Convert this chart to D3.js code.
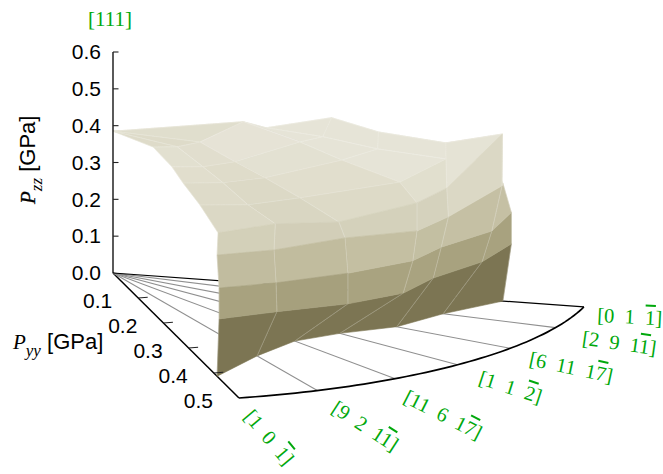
<!DOCTYPE html>
<html><head><meta charset="utf-8">
<script src="https://cdn.jsdelivr.net/npm/d3@7/dist/d3.min.js"></script>
<style>html,body{margin:0;padding:0;background:#fff}svg{display:block}text{white-space:pre}</style>
</head><body><svg id="c" width="663" height="474"></svg>
<script>
// ---- data -----
const directionLabels = ["[1  0  1\u0305]","[9  2  11\u0305]","[11  6  17\u0305]","[1  1  2\u0305]","[6  11  17\u0305]","[2  9  11\u0305]","[0  1  1\u0305]"];
const directionAngles = [0, 9.8, 20.4, 30, 39.6, 50.2, 60];
const pzzTicks = [0, 0.1, 0.2, 0.3, 0.4, 0.5, 0.6];
const pyyTicks = [0.1, 0.2, 0.3, 0.4, 0.5];
// one row per contour of the surface, one column per direction
const pyyRows = [
 [.413,.3525,.322,.329,.357,.373,.414],
 [.421,.401,.416,.421,.403,.417,.423],
 [.421,.399,.416,.435,.413,.428,.423],
 [.413,.394,.411,.441,.422,.4395,.414],
 [.417,.397,.400,.441,.420,.440,.406],
 [.345,.330,.331,.416,.419,.376,.350],
 [.278,.269,.269,.332,.333,.300,.280],
 [.234,.220,.216,.271,.264,.247,.230],
 [.159,.157,.154,.189,.193,.172,.160],
 [0,0,0,0,0,0,0]
];
const pzzRows = [
 [0,0,0,0,0,0,0],
 [.161,.151,.155,.155,.151,.154,.157],
 [.245,.228,.238,.250,.239,.241,.242],
 [.329,.314,.331,.334,.325,.367,.320],
 [.392,.387,.368,.410,.402,.508,.368],
 [.419,.396,.394,.454,.481,.465,.400],
 [.433,.417,.413,.472,.473,.472,.410],
 [.447,.429,.426,.491,.478,.495,.420],
 [.450,.443,.444,.505,.473,.445,.420],
 [.385,.385,.385,.385,.385,.385,.385]
];
const colorStops = [0.08,0.20,0.285,0.36,0.42,0.47];
const colorValues = ["#7c7553","#a9a380","#c3bea1","#d4d1bb","#dfdcca","#e6e4d7"];

// ---- projection -----
const svg = d3.select("#c");
const zY = d3.scaleLinear().domain([0,0.6]).range([273,52]);
const u = [252,250], v = [942,-66];           // screen px per GPa along the floor's two axes
const ox = 113;
const rad = d3.scaleLinear().domain([0,360]).range([0,2*Math.PI]);
function floor(phi,r){const c=Math.cos(rad(phi)),s=Math.sin(rad(phi));
  return [ox+r*(c*u[0]+s*v[0]), zY(0)+r*(c*u[1]+s*v[1])];}
function proj(phi,r,z){const p=floor(phi,r);return [p[0], p[1]+zY(z)-zY(0)];}
const color = d3.scaleLinear().domain(colorStops).range(colorValues).clamp(true);
const line = d3.line();

// ---- floor -----
const g = svg.append("g");
const rMax = 0.5;
directionAngles.forEach((a,i)=>{
  const edge = i===0||i===directionAngles.length-1;
  g.append("path").attr("d",line([floor(a,0),floor(a,rMax)])).attr("fill","none")
   .attr("stroke",edge?"#000":"#8f8f8f").attr("stroke-width",edge?(i===0?1.5:1.2):1.1);
});
g.append("path").attr("d",line(d3.range(0,60.5,1).map(a=>floor(a,rMax)))).attr("fill","none")
 .attr("stroke","#000").attr("stroke-width",1.7);

// ---- surface, painted back to front -----
const quads=[];
for(let j=0;j<pyyRows.length-1;j++)for(let i=0;i<directionAngles.length-1;i++){
  const c=[[j,i],[j,i+1],[j+1,i+1],[j+1,i]];
  const depth=d3.mean(c,([b,a])=>floor(directionAngles[a],pyyRows[b][a])[1]);
  quads.push({j,i,c,depth,
    z:d3.mean(c,([b,a])=>pzzRows[b][a]),
    pts:c.map(([b,a])=>proj(directionAngles[a],pyyRows[b][a],pzzRows[b][a]))});
}
quads.sort((a,b)=>a.depth-b.depth);
const sg=svg.append("g");
const seam=(a,b,o)=>sg.append("path").attr("d",line([a,b])).attr("stroke","#fff").attr("stroke-opacity",o).attr("stroke-width",0.6).attr("fill","none");
quads.forEach(q=>{
  const col=color(q.z);
  sg.append("path").attr("d",line(q.pts)+"Z").attr("fill",col).attr("stroke",col).attr("stroke-width",0.6).attr("stroke-linejoin","round");
  seam(q.pts[0],q.pts[3],0.3);
  seam(q.pts[1],q.pts[2],0.3);
  if(q.j>=4) seam(q.pts[2],q.pts[3],0.3);
});

// ---- axes -----
const ax=svg.append("g");
ax.append("path").attr("d",line([[ox,zY(0)],[ox,zY(0.6)]])).attr("stroke","#000").attr("stroke-width",1.3).attr("fill","none");
const sans="'Liberation Sans',Arial,sans-serif", serif="'Liberation Serif','Times New Roman',serif";
pzzTicks.forEach(t=>{
  if(t>0) ax.append("path").attr("d",line([[ox,zY(t)],[ox+5.5,zY(t)]])).attr("stroke","#222").attr("stroke-width",1.1);
  ax.append("text").attr("x",101).attr("y",zY(t)+7.2).attr("text-anchor","end").attr("font-family",sans).attr("font-size",21).attr("fill","#000").text(t.toFixed(1));
});
pyyTicks.forEach(t=>{
  const p=floor(0,t);
  if(t<0.5) ax.append("path").attr("d",line([p,[p[0]+9.5,p[1]-0.7]])).attr("stroke","#222").attr("stroke-width",1.1);
  ax.append("text").attr("x",p[0]-26).attr("y",p[1]+9.5).attr("text-anchor","end").attr("font-family",sans).attr("font-size",21).attr("fill","#000").text(t.toFixed(1));
});
// axis titles
const t1=ax.append("text").attr("transform","translate(35,204) rotate(-90)").attr("font-family",sans).attr("font-size",22);
t1.append("tspan").attr("font-family",serif).attr("font-style","italic").attr("font-size",21).attr("stroke","#000").attr("stroke-width",0.3).text("P");
t1.append("tspan").attr("font-family",serif).attr("font-style","italic").attr("font-size",17).attr("dy",7).text("zz");
t1.append("tspan").attr("dy",-7).text(" [GPa]");
const t2=ax.append("text").attr("x",13).attr("y",349).attr("font-family",sans).attr("font-size",22);
t2.append("tspan").attr("font-family",serif).attr("font-style","italic").attr("font-size",21).text("P");
t2.append("tspan").attr("font-family",serif).attr("font-style","italic").attr("font-size",17).attr("dy",7).text("yy");
t2.append("tspan").attr("dy",-7).text(" [GPa]");

// ---- direction labels -----
const green="#00a80c";
ax.append("text").attr("x",110).attr("y",26).attr("text-anchor","middle").attr("font-family",serif).attr("font-size",21).attr("fill",green).text("[111]");
const labelAngle=[50,33,27,18,12,8,3];
const labelDx=[4,13,7,20,18,26,13], labelDy=[19,21,23,19,17,17,15];
directionAngles.forEach((a,i)=>{
  const p=floor(a,rMax);
  const m=directionLabels[i].match(/^(.*)(.)\u0305(.*)$/);
  const t=ax.append("text").attr("transform",`translate(${p[0]+labelDx[i]},${p[1]+labelDy[i]}) rotate(${labelAngle[i]})`)
    .attr("font-family",serif).attr("font-size",20.5).attr("fill",green);
  t.append("tspan").text(m[1]);
  t.append("tspan").style("text-decoration","overline").style("text-decoration-thickness","0.6px").text(m[2]);
  t.append("tspan").text(m[3]);
});
</script></body></html>
